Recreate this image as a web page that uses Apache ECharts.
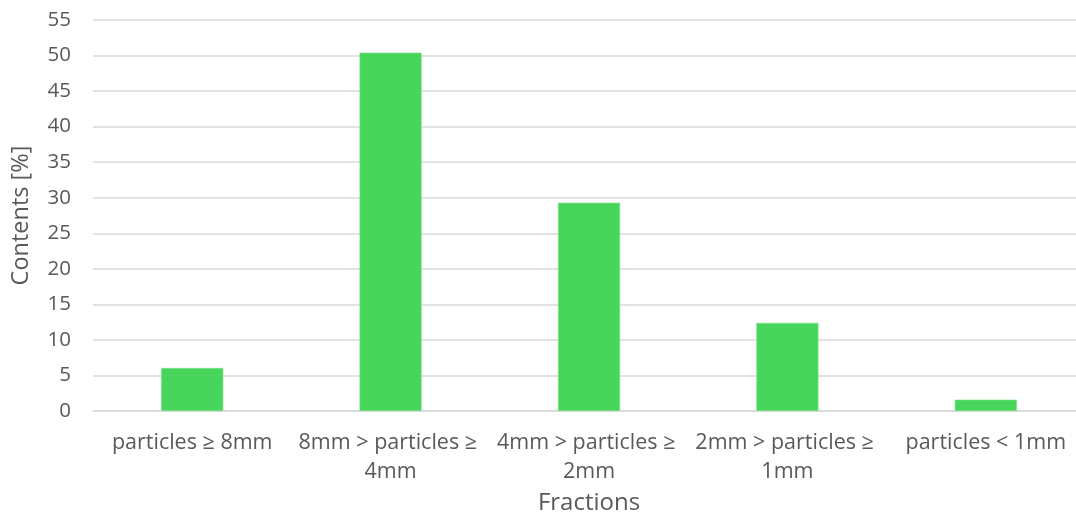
<!DOCTYPE html>
<html>
<head>
<meta charset="utf-8">
<script src="https://cdn.jsdelivr.net/npm/echarts@6/dist/echarts.min.js"></script>
<style>html,body{margin:0;padding:0;background:#fff;overflow:hidden}#c{width:1076px;height:513px}</style>
</head>
<body>
<div id="c"></div>
<script>
const categories = ["particles ≥ 8mm", "8mm > particles ≥ 4mm", "4mm > particles ≥ 2mm", "2mm > particles ≥ 1mm", "particles < 1mm"];
const contents = [6.05, 50.4, 29.3, 12.4, 1.6];
const yTicks = { min: 0, max: 55, interval: 5 };
const xTitle = "Fractions";
const yTitle = "Contents [%]";

const chart = echarts.init(document.getElementById('c'), null, { renderer: 'canvas' });
const txt = '#595959';
const font = '"Open Sans", "Noto Sans", sans-serif';
chart.setOption({
  animation: false,
  grid: { left: 93, right: -9, top: 20, bottom: 102, containLabel: false, outerBoundsMode: 'none' },
  xAxis: {
    type: 'category',
    data: categories,
    name: xTitle,
    nameLocation: 'middle',
    nameGap: 76,
    nameTextStyle: { color: txt, fontSize: 24, fontFamily: font },
    axisLine: { show: true, lineStyle: { color: '#d9d9d9', width: 1.5 } },
    axisTick: { show: false },
    axisLabel: {
      color: txt, fontSize: 21.5, fontFamily: font, margin: 17,
      width: 196, overflow: 'break', lineHeight: 29, interval: 0
    }
  },
  yAxis: {
    type: 'value',
    min: yTicks.min, max: yTicks.max, interval: yTicks.interval,
    name: yTitle,
    nameLocation: 'middle',
    nameGap: 60,
    nameRotate: 90,
    nameTextStyle: { color: txt, fontSize: 23.5, fontFamily: font },
    axisLine: { show: false },
    axisTick: { show: false },
    axisLabel: { color: txt, fontSize: 20.5, fontFamily: font, margin: 22 },
    splitLine: { lineStyle: { color: '#d9d9d9', width: 1.5 } }
  },
  series: [{
    type: 'bar',
    data: contents,
    barWidth: '31.3%',
    itemStyle: { color: '#48D55B', borderColor: '#7fe28b', borderWidth: 0.6 }
  }]
});
</script>
</body>
</html>
